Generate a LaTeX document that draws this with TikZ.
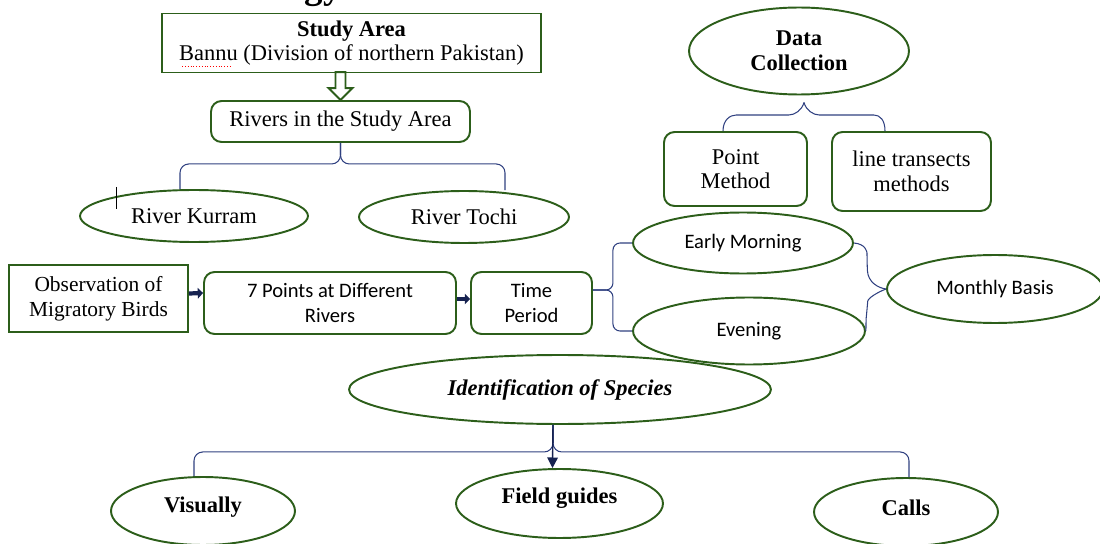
\documentclass[tikz,border=0pt]{standalone}
\usepackage{fontspec}
\setmainfont{Liberation Serif}
\newfontfamily\calibrifont{Carlito}
\usepackage{xcolor}
\usepackage{tikz}
\usetikzlibrary{calc, positioning, arrows.meta, shapes.geometric}
\definecolor{boxgreen}{RGB}{44,94,26}
\definecolor{bracenavy}{RGB}{47,64,128}
\definecolor{arrownavy}{RGB}{22,34,80}
\newcommand{\serifsize}{\fontsize{12.8}{14}\selectfont}
\newcommand{\sanssize}{\calibrifont\fontsize{11.7}{14}\selectfont}
\tikzset{
    sqbox/.style={rectangle, draw=boxgreen, line width=1.1pt, align=center, inner sep=0pt, font=\serifsize},
    rbox/.style={sqbox, rounded corners=6pt},
    oval/.style={ellipse, draw=boxgreen, line width=1.1pt, align=center, inner sep=0pt, font=\serifsize},
    boldtext/.style={font=\serifsize\bfseries},
    sanstext/.style={font=\sanssize},
    brace/.style={draw=bracenavy, line width=0.6pt, rounded corners=5pt},
    fatarrow/.style={-{Triangle[length=3pt,width=6pt]}, line width=2.4pt, draw=arrownavy},
    downarrow/.style={-{Triangle[length=6pt,width=6pt]}, line width=0.8pt, draw=arrownavy},
    hollow/.style={draw=boxgreen, line width=1.1pt, fill=white}
}

\begin{document}
\begin{tikzpicture}[x=0.02cm, y=-0.02cm]
    \useasboundingbox (0,0) rectangle (1100,544);
    \clip (0,0) rectangle (1100,544);

    % heading, cut off by the page
    \node[font=\bfseries\fontsize{21}{23}\selectfont, anchor=base east, inner sep=0pt] (title) at (342,-1.2) {Methodology};

    % Study area
    \node[sqbox, minimum width=7.58cm, minimum height=1.18cm] (study) at (351.5,43)
        {{\bfseries Study Area}\\Bannu (Division of northern Pakistan)};
    \draw[red, densely dotted, line width=0.6pt] ([shift={(21,-7)}]study.south west) -- ++(50,0);
    \node[rbox, minimum width=5.18cm, minimum height=0.82cm] (rivers) at (340.5,121.5) {Rivers in the Study Area};
    \draw[hollow] (rivers.north) -- ++(-12,-12) -- ++(7,0) -- ++(0,-16) -- ++(10,0) -- ++(0,16) -- ++(7,0) -- cycle;

    % Rivers
    \node[oval, minimum width=4.56cm, minimum height=1.04cm] (kurram) at (194,216) {River Kurram};
    \node[oval, minimum width=4.2cm, minimum height=1.04cm] (tochi) at (464,217) {River Tochi};
    \draw[brace] (rivers.south) -- ++(0,21) -| ([xshift=-0.28cm]kurram.north);
    \draw[brace] (rivers.south) -- ++(0,21) -| ([xshift=0.82cm]tochi.north);
    \draw[line width=0.4pt] ([shift={(37,-29)}]kurram.west) -- ++(0,22);

    % Data collection
    \node[oval, boldtext, minimum width=4.4cm, minimum height=1.74cm] (datacol) at (799,51) {Data\\Collection};
    \node[rbox, minimum width=2.86cm, minimum height=1.48cm] (point) at (735.5,169) {Point\\Method};
    \node[rbox, minimum width=3.18cm, minimum height=1.58cm] (line) at (911.5,171.5) {line transects\\methods};
    \coordinate (dctip) at ([shift={(5,7)}]datacol.south);
    \draw[brace] (dctip) .. controls (802,110) and (795,115) .. (780,115) -- (745,115)
        .. controls (730,115) and (723,120) .. ([xshift=-0.25cm]point.north);
    \draw[brace] (dctip) .. controls (806,110) and (813,115) .. (828,115) -- (865,115)
        .. controls (880,115) and (885,120) .. ([xshift=-0.53cm]line.north);

    % Observation row
    \node[sqbox, font=\fontsize{12.2}{14}\selectfont, minimum width=3.58cm, minimum height=1.34cm] (obs) at (98.5,298.5) {Observation of\\Migratory Birds};
    \node[rbox, sanstext, minimum width=5.04cm, minimum height=1.24cm] (seven) at (330,303) {7 Points at Different\\Rivers};
    \node[rbox, sanstext, minimum width=2.42cm, minimum height=1.24cm] (time) at (531.5,303) {Time\\Period};
    \draw[fatarrow] ([yshift=0.1cm]obs.east) -- ([yshift=0.2cm]seven.west);
    \draw[fatarrow] ([yshift=0.08cm]seven.east) -- ([yshift=0.08cm]time.west);

    % Time of day
    \node[oval, sanstext, minimum width=4.4cm, minimum height=1.22cm] (early) at (743,243) {Early Morning};
    \node[oval, sanstext, minimum width=4.64cm, minimum height=1.34cm] (evening) at (749,331) {Evening};
    \node[oval, sanstext, minimum width=4.32cm, minimum height=1.36cm] (monthly) at (995,289) {Monthly Basis};
    \draw[brace, rounded corners=4pt] ([yshift=0.26cm]time.east) -- ++(20,0) |- (early.west);
    \draw[brace, rounded corners=4pt] ([yshift=0.26cm]time.east) -- ++(20,0) |- (evening.west);
    \draw[brace] (early.east) .. controls (866,244) and (867,252) .. (867,262)
        .. controls (868,282) and (878,288) .. (monthly.west);
    \draw[brace] (monthly.west) .. controls (878,292) and (868,298) .. (867,310)
        .. controls (866,320) and (866,326) .. (evening.east);

    % Identification
    \node[oval, font=\serifsize\bfseries\itshape, minimum width=8.44cm, minimum height=1.38cm] (ident) at (560,389.5) {Identification of Species};
    \node[oval, boldtext, minimum width=3.68cm, minimum height=1.36cm,
        label={[boldtext, yshift=0.08cm]center:Visually}] (visually) at (203,511) {};
    \node[oval, minimum width=4.14cm, minimum height=1.38cm,
        label={[boldtext, yshift=0.11cm]center:Field guides}] (field) at (559.5,503.5) {};
    \node[oval, boldtext, minimum width=3.68cm, minimum height=1.36cm,
        label={[boldtext, yshift=0.08cm]center:Calls}] (calls) at (906,512) {};
    \draw[brace] ([xshift=-0.14cm]ident.south) -- ++(0,27) -| ([xshift=-0.18cm]visually.north);
    \draw[brace] ([xshift=-0.14cm]ident.south) -- ++(0,27) -| ([xshift=0.06cm]calls.north);
    \draw[downarrow] ([xshift=-0.14cm]ident.south) -- ([xshift=-0.14cm]field.north);
\end{tikzpicture}
\end{document}
